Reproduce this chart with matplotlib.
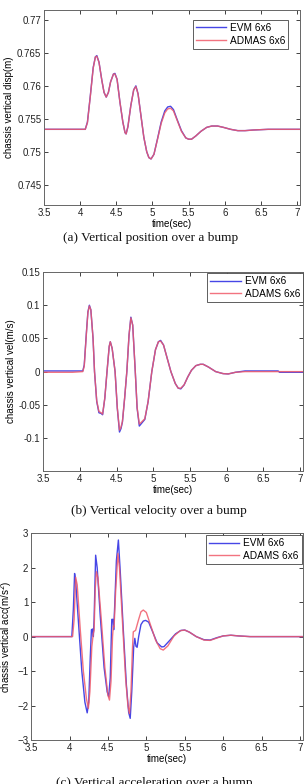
import numpy as np
import matplotlib
matplotlib.use('Agg')
import matplotlib.pyplot as plt

plt.rcParams['font.family'] = ['Liberation Sans', 'DejaVu Sans']

### data
# (a) vertical position
t_disp = [3.5, 4.07, 4.10, 4.14, 4.18, 4.21, 4.23, 4.26, 4.30, 4.33, 4.36, 4.39, 4.42,
          4.46, 4.48, 4.51, 4.55, 4.59, 4.62, 4.635, 4.66, 4.70, 4.74, 4.77, 4.80, 4.84,
          4.88, 4.92, 4.95, 4.98, 5.02, 5.07, 5.12, 5.17, 5.21, 5.25, 5.29, 5.34, 5.40,
          5.46, 5.50, 5.54, 5.60, 5.67, 5.75, 5.82, 5.90, 5.98, 6.08, 6.18, 6.28, 6.40,
          6.60, 7.04]
disp_evm = [0.7534, 0.7534, 0.7545, 0.7585, 0.7628, 0.7644, 0.7646, 0.7636, 0.7608, 0.7590,
            0.7583, 0.7590, 0.7606, 0.7618, 0.7619, 0.7610, 0.7575, 0.7545, 0.7529, 0.7527,
            0.7538, 0.7570, 0.7594, 0.7600, 0.7588, 0.7555, 0.7522, 0.7500, 0.7491, 0.7489,
            0.7496, 0.7520, 0.7545, 0.7562, 0.7568, 0.7569, 0.7564, 0.7549, 0.7532, 0.7521,
            0.7519, 0.7519, 0.7524, 0.7531, 0.7537, 0.7539, 0.7539, 0.7537, 0.7534, 0.7532,
            0.7532, 0.7533, 0.7534, 0.7534]
disp_adams = [0.7534, 0.7534, 0.7544, 0.7584, 0.7627, 0.7644, 0.7645, 0.7636, 0.7608, 0.7590,
              0.7583, 0.7590, 0.7606, 0.7618, 0.7618, 0.7610, 0.7575, 0.7545, 0.7529, 0.7527,
              0.7538, 0.7570, 0.7594, 0.7599, 0.7588, 0.7555, 0.7522, 0.7500, 0.7491, 0.7489,
              0.7496, 0.7519, 0.7543, 0.7559, 0.7565, 0.7566, 0.7562, 0.7548, 0.7531, 0.7521,
              0.7519, 0.7519, 0.7524, 0.7531, 0.7537, 0.7539, 0.7539, 0.7537, 0.7534, 0.7532,
              0.7532, 0.7533, 0.7534, 0.7534]

# (b) vertical velocity
t_vel = [3.5, 3.9, 4.04, 4.06, 4.09, 4.11, 4.13, 4.15, 4.18, 4.20, 4.23, 4.26, 4.29, 4.31,
         4.34, 4.37, 4.40, 4.415, 4.44, 4.48, 4.51, 4.54, 4.56, 4.58, 4.61, 4.64, 4.67,
         4.695, 4.72, 4.755, 4.78, 4.81, 4.84, 4.885, 4.93, 4.98, 5.03, 5.07, 5.10, 5.14,
         5.19, 5.24, 5.30, 5.34, 5.375, 5.42, 5.47, 5.52, 5.58, 5.64, 5.68, 5.75, 5.85,
         5.95, 6.02, 6.12, 6.25, 6.45, 6.70, 6.72, 7.04]
vel_evm = [0.001, 0.001, 0.001, 0.010, 0.060, 0.090, 0.100, 0.093, 0.050, 0.000, -0.045,
           -0.062, -0.063, -0.065, -0.040, 0.000, 0.038, 0.045, 0.035, 0.000, -0.055, -0.091,
           -0.086, -0.076, -0.040, 0.000, 0.055, 0.082, 0.070, 0.000, -0.055, -0.082, -0.078,
           -0.072, -0.045, 0.000, 0.033, 0.045, 0.047, 0.040, 0.020, 0.000, -0.018, -0.025,
           -0.026, -0.020, -0.008, 0.002, 0.009, 0.011, 0.011, 0.007, 0.000, -0.003, -0.0035,
           -0.001, 0.001, 0.001, 0.001, -0.001, -0.001]
vel_adams = [-0.001, -0.001, 0.000, 0.008, 0.058, 0.089, 0.099, 0.093, 0.050, 0.000, -0.044,
             -0.060, -0.062, -0.064, -0.040, 0.000, 0.038, 0.045, 0.035, 0.000, -0.054, -0.088,
             -0.084, -0.075, -0.040, 0.000, 0.055, 0.081, 0.070, 0.000, -0.054, -0.079, -0.076,
             -0.071, -0.045, 0.000, 0.033, 0.045, 0.046, 0.040, 0.020, 0.000, -0.018, -0.025,
             -0.025, -0.020, -0.008, 0.002, 0.009, 0.011, 0.011, 0.007, 0.000, -0.003, -0.0035,
             -0.001, 0.000, 0.000, 0.000, 0.000, 0.000]

# (c) vertical acceleration
t_acc_evm = [3.5, 4.03, 4.05, 4.066, 4.08, 4.12, 4.16, 4.20, 4.23, 4.25, 4.27, 4.285, 4.30,
             4.31, 4.32, 4.34, 4.36, 4.40, 4.45, 4.49, 4.51, 4.53, 4.55, 4.565, 4.575, 4.59,
             4.61, 4.636, 4.66, 4.70, 4.74, 4.77, 4.79, 4.81, 4.835, 4.85, 4.865, 4.88, 4.90,
             4.93, 4.96, 4.99, 5.03, 5.08, 5.14, 5.20, 5.23, 5.30, 5.38, 5.45, 5.50, 5.56,
             5.65, 5.75, 5.83, 5.92, 6.0, 6.1, 6.2, 6.35, 7.04]
acc_evm = [0.0, 0.0, 0.8, 1.83, 1.6, 0.3, -1.0, -1.9, -2.21, -1.9, -0.6, 0.2, 0.22, 0.0, 0.5,
           2.36, 2.0, 0.6, -0.9, -1.6, -1.74, -1.2, 0.5, 0.5, 0.2, 1.0, 2.2, 2.8, 1.9, 0.2,
           -1.4, -2.2, -2.37, -1.6, -0.3, -0.05, -0.28, -0.31, 0.0, 0.35, 0.45, 0.47, 0.42,
           0.15, -0.18, -0.3, -0.29, -0.12, 0.08, 0.18, 0.19, 0.13, 0.0, -0.09, -0.1, -0.03,
           0.02, 0.04, 0.02, 0.0, 0.0]
t_acc_adams = [3.5, 4.04, 4.06, 4.08, 4.10, 4.14, 4.18, 4.22, 4.245, 4.265, 4.29, 4.31, 4.32,
               4.335, 4.35, 4.37, 4.41, 4.46, 4.50, 4.52, 4.54, 4.56, 4.57, 4.58, 4.60, 4.63,
               4.65, 4.69, 4.73, 4.76, 4.78, 4.80, 4.82, 4.83, 4.86, 4.90, 4.93, 4.96, 5.0,
               5.06, 5.12, 5.18, 5.22, 5.28, 5.36, 5.44, 5.50, 5.56, 5.65, 5.75, 5.83, 5.92,
               6.0, 6.1, 6.2, 6.35, 7.04]
acc_adams = [0.0, 0.0, 0.5, 1.72, 1.5, 0.2, -1.0, -1.8, -2.08, -1.6, -0.3, 0.1, 0.18, 1.4,
             1.88, 1.7, 0.6, -0.9, -1.7, -1.84, -1.3, 0.0, 0.3, 0.28, 1.3, 2.41, 2.0, 0.4,
             -1.2, -2.0, -2.23, -1.6, -0.3, 0.14, 0.18, 0.5, 0.72, 0.77, 0.7, 0.3, -0.1,
             -0.35, -0.39, -0.27, 0.02, 0.17, 0.19, 0.13, 0.0, -0.1, -0.11, -0.04, 0.02, 0.04,
             0.02, 0.0, 0.0]

x_ticks = [3.5, 4, 4.5, 5, 5.5, 6, 6.5, 7]
x_ticklabels = ['3.5', '4', '4.5', '5', '5.5', '6', '6.5', '7']

blue = '#4646e6'
red = '#f05a6a'


def style_axes(ax):
    ax.set_xlim(3.5, 7.04)
    ax.set_xticks(x_ticks)
    ax.set_xticklabels(x_ticklabels)
    ax.tick_params(direction='in', length=3, width=0.6, labelsize=7, colors='#222222',
                   top=True, right=True, pad=2)
    for s in ax.spines.values():
        s.set_color('#666666')
        s.set_linewidth(0.7)
    ax.set_xlabel('time(sec)', fontsize=7, labelpad=1)


def add_legend(ax, anchor):
    leg = ax.legend(loc='upper right', bbox_to_anchor=anchor, fontsize=7.3, fancybox=False,
                    framealpha=1, handlelength=3.0, borderpad=0.3, labelspacing=0.25,
                    handletextpad=0.4, borderaxespad=0.0)
    leg.get_frame().set_edgecolor('#444444')
    leg.get_frame().set_linewidth(0.6)


fig = plt.figure(figsize=(3.08, 7.84), dpi=100)

### (a)
ax1 = fig.add_axes([0.143, 0.7385, 0.831, 0.2485])
ax1.plot(t_disp, disp_evm, color=blue, lw=1.0, label='EVM 6x6')
ax1.plot(t_disp, disp_adams, color=red, lw=1.0, alpha=0.85, label='ADMAS 6x6')
ax1.set_ylim(0.7419, 0.7715)
ax1.set_yticks([0.745, 0.75, 0.755, 0.76, 0.765, 0.77])
ax1.set_yticklabels(['0.745', '0.75', '0.755', '0.76', '0.765', '0.77'])
ax1.set_ylabel('chassis vertical disp(m)', fontsize=7, labelpad=2)
style_axes(ax1)
add_legend(ax1, (0.955, 0.95))

### (b)
ax2 = fig.add_axes([0.140, 0.399, 0.844, 0.254])
ax2.plot(t_vel, vel_evm, color=blue, lw=1.0, label='EVM 6x6')
ax2.plot(t_vel, vel_adams, color=red, lw=1.0, alpha=0.85, label='ADAMS 6x6')
ax2.set_ylim(-0.15, 0.15)
ax2.set_yticks([-0.1, -0.05, 0, 0.05, 0.1, 0.15])
ax2.set_yticklabels(['-0.1', '-0.05', '0', '0.05', '0.1', '0.15'])
ax2.set_ylabel('chassis vertical vel(m/s)', fontsize=7, labelpad=2)
style_axes(ax2)
add_legend(ax2, (1.0, 0.995))

### (c)
ax3 = fig.add_axes([0.101, 0.056, 0.883, 0.264])
ax3.plot(t_acc_evm, acc_evm, color=blue, lw=1.0, label='EVM 6x6')
ax3.plot(t_acc_adams, acc_adams, color=red, lw=1.0, alpha=0.85, label='ADAMS 6x6')
ax3.set_ylim(-3, 3)
ax3.set_yticks([-3, -2, -1, 0, 1, 2, 3])
ax3.set_ylabel('chassis vertical acc(m/s$^2$)', fontsize=7, labelpad=2)
style_axes(ax3)
add_legend(ax3, (0.995, 0.99))

### captions
cap_font = dict(family='Liberation Serif', fontsize=9.5, ha='center', va='center', color='#111111')
fig.text(0.49, 0.696, '(a) Vertical position over a bump', **cap_font)
fig.text(0.517, 0.348, '(b) Vertical velocity over a bump', **cap_font)
fig.text(0.50, 0.0015, '(c) Vertical acceleration over a bump', **cap_font)

fig.savefig('out.png', dpi=100)
